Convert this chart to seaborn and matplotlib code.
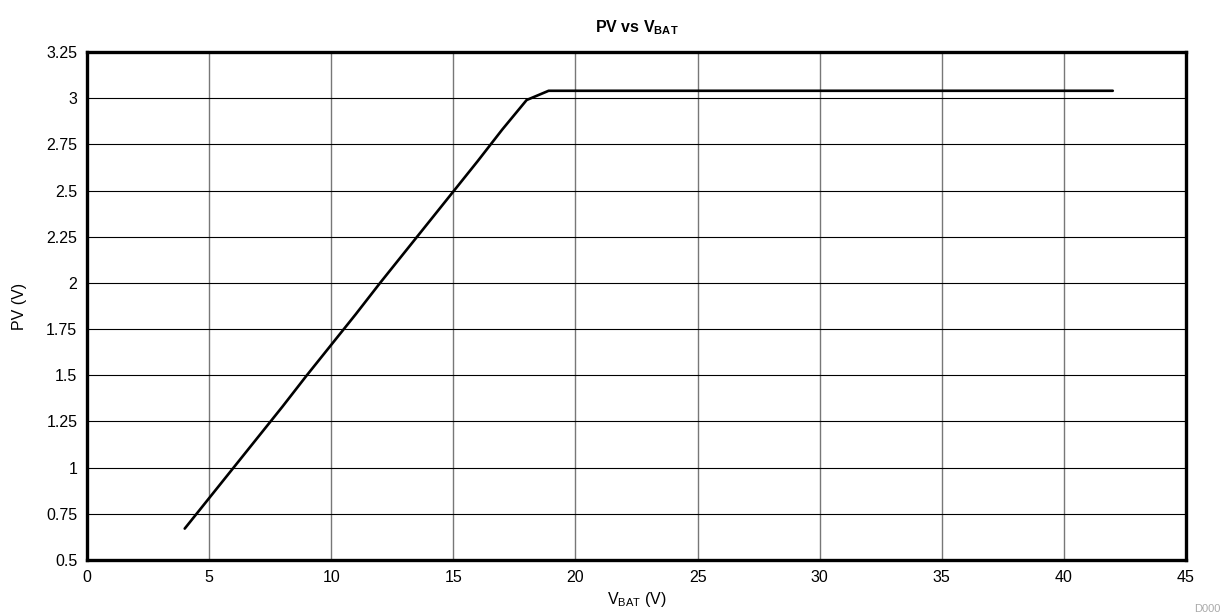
import matplotlib
matplotlib.use("Agg")
import matplotlib.pyplot as plt
import seaborn as sns
import pandas as pd

vbat = [4, 5, 6, 7, 8, 9, 10, 11, 12, 13, 14, 15, 16, 17, 18, 18.9, 20, 25, 30, 35, 40, 42]
pv = [0.67, 0.835, 1.0, 1.165, 1.33, 1.5, 1.665, 1.83, 2.0, 2.165, 2.33, 2.495, 2.66, 2.83, 2.99, 3.04, 3.04, 3.04, 3.04, 3.04, 3.04, 3.04]
xticks = [0, 5, 10, 15, 20, 25, 30, 35, 40, 45]
yticks = [0.5, 0.75, 1, 1.25, 1.5, 1.75, 2, 2.25, 2.5, 2.75, 3, 3.25]
ytick_labels = ["0.5", "0.75", "1", "1.25", "1.5", "1.75", "2", "2.25", "2.5", "2.75", "3", "3.25"]

sns.set_theme(style="white")
plt.rcParams['font.family'] = ['Liberation Sans', 'DejaVu Sans']
plt.rcParams['mathtext.fontset'] = 'custom'
plt.rcParams['mathtext.rm'] = 'Liberation Sans'
plt.rcParams['mathtext.it'] = 'Liberation Sans'
plt.rcParams['mathtext.bf'] = 'Liberation Sans:bold'

df = pd.DataFrame({"VBAT": vbat, "PV": pv})

fig = plt.figure(figsize=(12.24, 6.16), dpi=100)
ax = fig.add_axes([0.0711, 0.0909, 0.8979, 0.8247])
sns.lineplot(data=df, x="VBAT", y="PV", ax=ax, color="black", linewidth=1.9)

ax.set_xlim(0, 45)
ax.set_ylim(0.5, 3.25)
ax.set_xticks(xticks)
ax.set_yticks(yticks)
ax.set_yticklabels(ytick_labels)
ax.tick_params(axis='both', labelsize=11.5, length=0, pad=7, colors='black')
ax.xaxis.grid(True, color='#777777', linewidth=1.0)
ax.yaxis.grid(True, color='black', linewidth=0.8)
for s in ax.spines.values():
    s.set_color('black')
    s.set_linewidth(2.4)

ax.set_xlabel(r'V$_{\mathrm{BAT}}$ (V)', fontsize=11.5, labelpad=4, color='black')
ax.set_ylabel('PV (V)', fontsize=11.5, labelpad=14, color='black')
ax.set_title(r'PV vs V$_{\mathbf{BAT}}$', fontsize=11.5, fontweight='bold', pad=14, color='black')
fig.text(0.997, 0.004, 'D000', ha='right', va='bottom', fontsize=8, color='#aaaaaa')

fig.savefig("out.png", dpi=100)
